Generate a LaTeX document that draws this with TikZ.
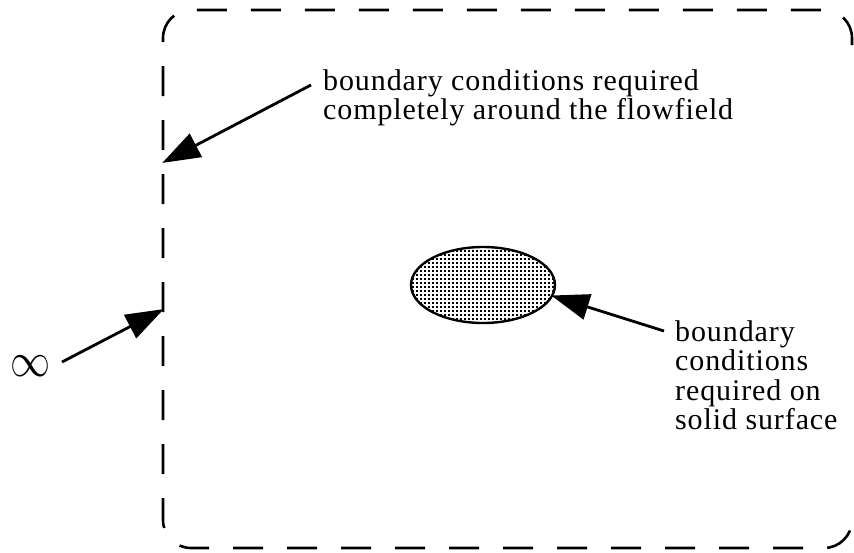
\documentclass[tikz,border=0pt]{standalone}
\usepackage{fontspec}
\setmainfont{Liberation Serif}[LetterSpace=3]
\usetikzlibrary{shapes.geometric,arrows.meta,patterns.meta}
\tikzdeclarepattern{name=mydots, type=uncolored,
  bottom left={(-.1pt,-.1pt)}, top right={(4.1pt,4.1pt)},
  tile size={(4pt,4pt)},
  code={\fill (0pt,0pt) rectangle (1.8pt,1.8pt);}}
\tikzset{
  border/.style={line width=2.6pt, dash pattern=on 30pt off 24pt, rounded corners=28pt},
  pointer/.style={line width=2.8pt, -{Triangle[length=38pt,width=26pt]}, shorten >=-2pt},
  lbl/.style={align=left, inner sep=0pt, font=\fontsize{30}{29.5}\selectfont, anchor=north west},
}
\begin{document}
\begin{tikzpicture}[x=1pt,y=-1pt]
\useasboundingbox (0,0) rectangle (854,552);
\draw[border] (852,45) -- (852,10) -- (163,10) -- (163,548) -- (852,548) -- (852,513);
\node[ellipse, draw, line width=2.4pt, minimum width=144pt, minimum height=76pt, inner sep=0pt,
      pattern=mydots, pattern color=black] (body) at (483,285) {};
\node[lbl] (toplbl) at (323,69) {boundary conditions required\\completely around the flowfield};
\node[lbl] (sidelbl) at (675,320) {boundary\\conditions\\required on\\solid surface};
\node[inner sep=0pt, xscale=4, yscale=4.8] (inf) at (30,366) {$\infty$};
\coordinate (bc1) at (164,162);
\coordinate (bc2) at (162,310);
\coordinate (tail1) at (311,85);
\coordinate (tail2) at (62,362);
\coordinate (tail3) at (664,331);
\draw[pointer] (tail1) -- (bc1);
\draw[pointer] (tail2) -- (bc2);
\draw[pointer] (tail3) -- (body.-9);
\end{tikzpicture}
\end{document}
